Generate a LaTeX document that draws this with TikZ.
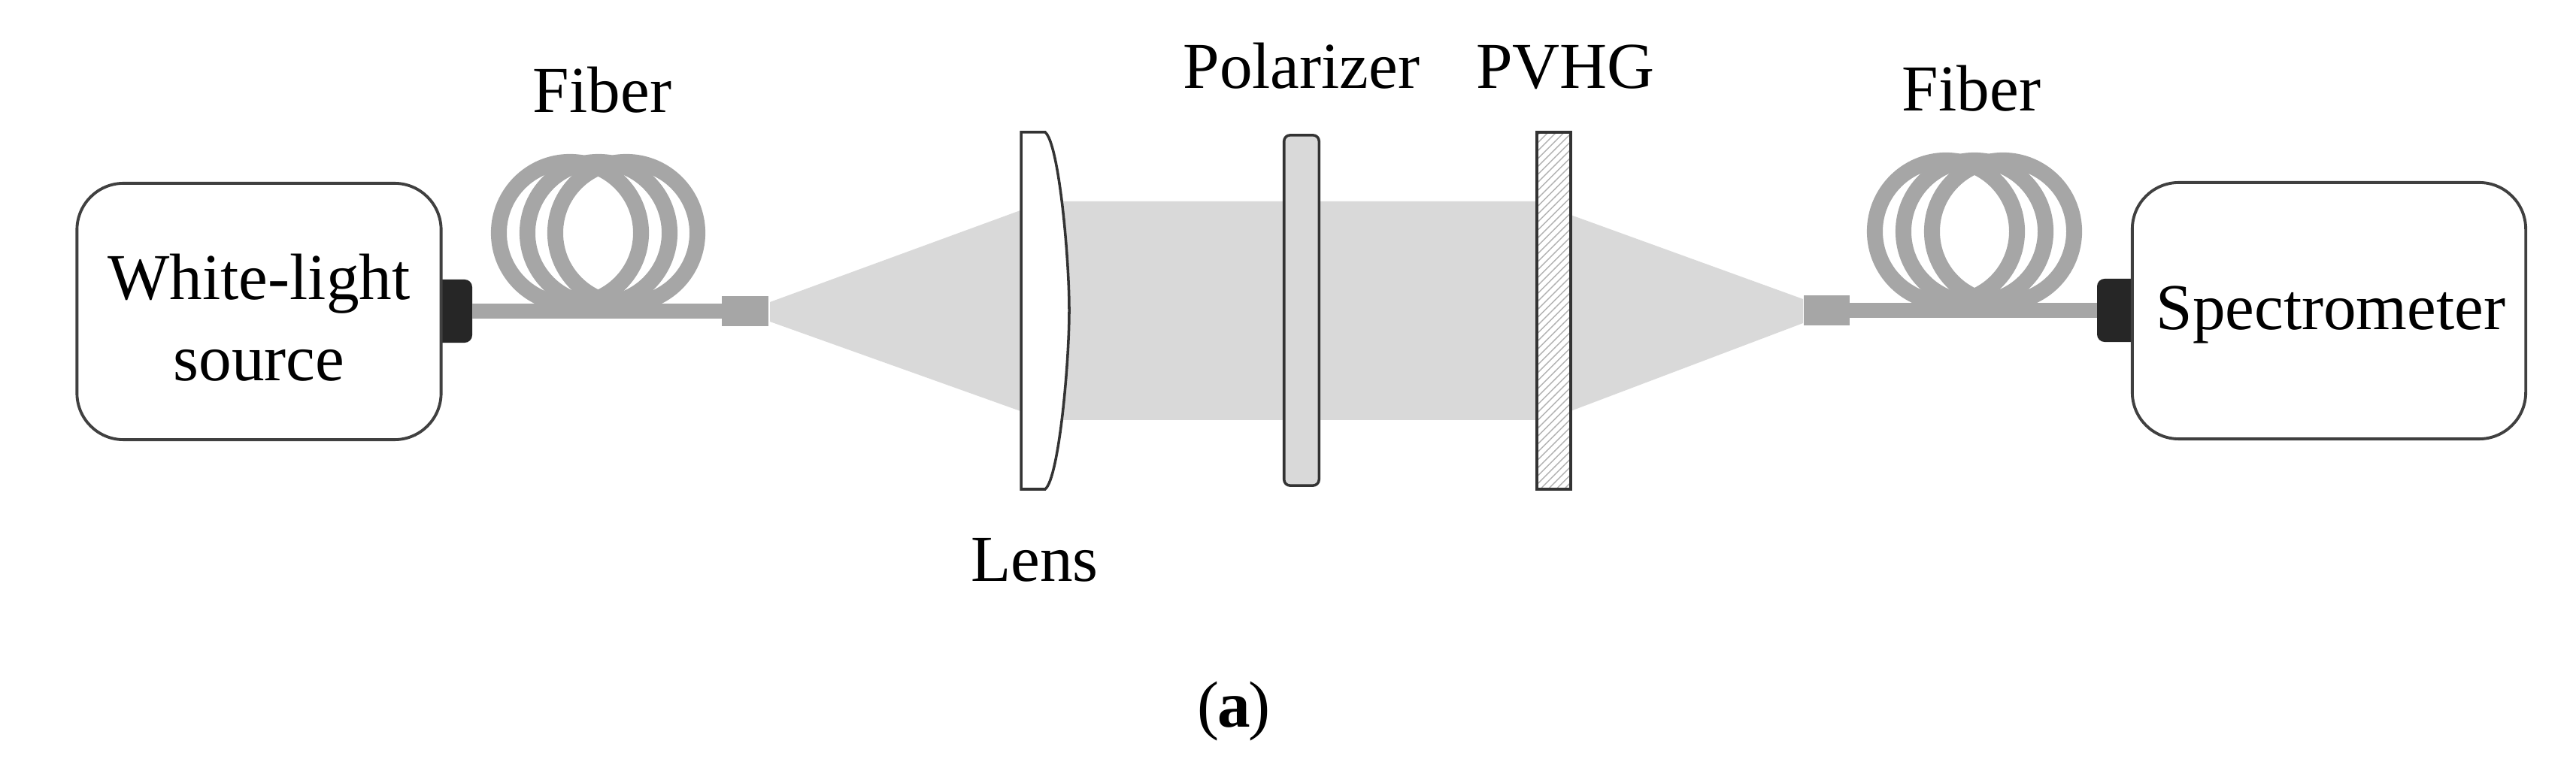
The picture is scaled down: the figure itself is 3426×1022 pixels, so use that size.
\documentclass[tikz,border=0pt]{standalone}
\usepackage{fontspec}
\setmainfont{Liberation Serif}
\usetikzlibrary{patterns}
\definecolor{fibergray}{HTML}{A6A6A6}
\definecolor{beamgray}{HTML}{D9D9D9}
\definecolor{plugblack}{HTML}{262626}
\tikzset{
    every node/.style={inner sep=0pt,outer sep=0pt,font=\fontsize{24.8}{30.7}\selectfont},
    boxnode/.style={shape=rectangle,rounded corners=0.62cm,draw=black!75,line width=1.1pt,fill=white,minimum width=4.84cm,minimum height=3.41cm,align=center},
    coilnode/.style={shape=circle,draw=fibergray,line width=6pt,minimum size=1.89cm},
    plugnode/.style={shape=rectangle,rounded corners=0.1cm,fill=plugblack,minimum width=0.66cm,minimum height=0.84cm},
    tipnode/.style={shape=rectangle,fill=fibergray,minimum width=0.61cm,minimum height=0.4cm},
    textnode/.style={anchor=base},
    fiberline/.style={draw=fibergray,line width=5.7pt},
    optic/.style={draw=black!80,line width=1pt}
}
\begin{document}
\begin{tikzpicture}[x=0.01cm,y=-0.01cm]
    \useasboundingbox (0,0) rectangle (3426,1022);
    % beam
    \fill[beamgray] (1024,402) -- (1357,280) -- (1412,268) -- (2044,268) -- (2089,286) -- (2398,398) -- (2398,430) -- (2089,547) -- (2044,559) -- (1412,559) -- (1357,547) -- (1024,428) -- cycle;
    % left fiber
    \node[coilnode] (C1) at (758,310) {};
    \node[coilnode] (C2) at (796,310) {};
    \node[coilnode] (C3) at (833,310) {};
    \node[plugnode] (P1) at (595,414) {};
    \node[tipnode] (T1) at (991,414) {};
    \path [fiberline](P1) edge[fiberline] (T1);
    \node[boxnode] (source) at (344.5,414.5) {\rule{0pt}{22pt}White-light\\source};
    % right fiber
    \node[coilnode] (C4) at (2588,308) {};
    \node[coilnode] (C5) at (2626,308) {};
    \node[coilnode] (C6) at (2664,308) {};
    \node[plugnode] (P2) at (2822,413) {};
    \node[tipnode] (T2) at (2429,413) {};
    \path [fiberline](T2) edge[fiberline] (P2);
    \node[boxnode,minimum width=5.23cm,text height=20pt,text depth=5.5pt] (spectro) at (3097.5,413.5) {\hspace{1.4pt}Spectrometer};
    % optics
    \draw[optic,fill=white] (1358,176) -- (1390,176) .. controls (1408,190) and (1422,340) .. (1422,413) .. controls (1422,486) and (1408,637) .. (1390,651) -- (1358,651) -- cycle;
    \node[shape=rectangle,rounded corners=0.08cm,optic,fill=beamgray,minimum width=0.465cm,minimum height=4.66cm] (polarizer) at (1731,413) {};
    \node[shape=rectangle,optic,preaction={fill=white},pattern=north east lines,pattern color=black!30,minimum width=0.45cm,minimum height=4.75cm] (pvhg) at (2066.5,413.5) {};
    % labels
    \node[textnode] (fiberA) at (801,150) {Fiber};
    \node[textnode] (fiberB) at (2622,148) {Fiber};
    \node[textnode] (polLabel) at (1731,118) {Polarizer};
    \node[textnode] (pvhgLabel) at (2082,118) {PVHG};
    \node[textnode] (lensLabel) at (1376,774) {Lens};
    \node[textnode] (caption) at (1641,968) {(\kern-0.6pt\textbf{a}\kern-0.6pt)};
\end{tikzpicture}
\end{document}
